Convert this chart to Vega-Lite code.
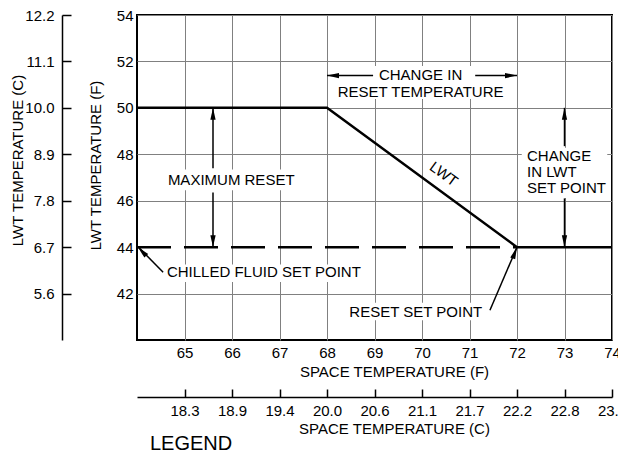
{
  "$schema": "https://vega.github.io/schema/vega-lite/v6.json",
  "width": 475,
  "height": 325,
  "autosize": {"type": "none"},
  "padding": {"left": 137, "top": 15, "right": 6, "bottom": 113},
  "background": "white",
  "config": {
    "font": "Liberation Sans",
    "view": {"stroke": "black", "strokeWidth": 2},
    "axis": {
      "labelFont": "Liberation Sans",
      "titleFont": "Liberation Sans",
      "labelColor": "black",
      "titleColor": "black",
      "labelFontSize": 15,
      "titleFontSize": 15,
      "titleFontWeight": "normal",
      "domainColor": "black",
      "tickColor": "black",
      "gridColor": "#808080",
      "gridWidth": 1,
      "labelFlush": false,
      "labelOverlap": false
    }
  },
  "title": {
    "text": "LEGEND",
    "orient": "bottom",
    "anchor": "start",
    "frame": "group",
    "offset": 14,
    "dx": 13,
    "fontSize": 20,
    "fontWeight": "normal",
    "font": "Liberation Sans",
    "color": "black",
    "baseline": "alphabetic"
  },
  "datasets": {
    "lwt": [
      {"temp_f": 64, "lwt_f": 50},
      {"temp_f": 68, "lwt_f": 50},
      {"temp_f": 72, "lwt_f": 44},
      {"temp_f": 74, "lwt_f": 44}
    ],
    "setpoint": [
      {"temp_f": 64, "lwt_f": 44},
      {"temp_f": 72, "lwt_f": 44}
    ],
    "boxes": [
      {"temp_f": 68.08, "temp_f2": 71.9, "lwt_f": 50.38, "lwt_f2": 51.8},
      {"temp_f": 64.55, "temp_f2": 67.45, "lwt_f": 46.45, "lwt_f2": 47.35},
      {"temp_f": 64.6, "temp_f2": 68.95, "lwt_f": 42.5, "lwt_f2": 43.25},
      {"temp_f": 68.35, "temp_f2": 71.4, "lwt_f": 40.85, "lwt_f2": 41.6},
      {"temp_f": 72.1, "temp_f2": 73.9, "lwt_f": 46.12, "lwt_f2": 48.28}
    ],
    "arrows": [
      {"temp_f": 68, "temp_f2": 68.97, "lwt_f": 51.39, "lwt_f2": 51.39},
      {"temp_f": 71.12, "temp_f2": 72, "lwt_f": 51.39, "lwt_f2": 51.39},
      {"temp_f": 65.6, "temp_f2": 65.6, "lwt_f": 50, "lwt_f2": 47.4},
      {"temp_f": 65.6, "temp_f2": 65.6, "lwt_f": 46.35, "lwt_f2": 44},
      {"temp_f": 73, "temp_f2": 73, "lwt_f": 50, "lwt_f2": 48.35},
      {"temp_f": 73, "temp_f2": 73, "lwt_f": 46.1, "lwt_f2": 44},
      {"temp_f": 64.03, "temp_f2": 64.55, "lwt_f": 44, "lwt_f2": 42.92},
      {"temp_f": 71.43, "temp_f2": 72, "lwt_f": 41.28, "lwt_f2": 44}
    ],
    "heads": [
      {"temp_f": 68, "lwt_f": 51.39, "dir": "left"},
      {"temp_f": 72, "lwt_f": 51.39, "dir": "right"},
      {"temp_f": 65.6, "lwt_f": 50, "dir": "up"},
      {"temp_f": 65.6, "lwt_f": 44, "dir": "down"},
      {"temp_f": 73, "lwt_f": 50, "dir": "up"},
      {"temp_f": 73, "lwt_f": 44, "dir": "down"},
      {"temp_f": 64.02, "lwt_f": 44, "dir": "up-left"},
      {"temp_f": 72, "lwt_f": 44, "dir": "up-right"}
    ],
    "labels_center": [
      {"temp_f": 69.97, "lwt_f": 51.41, "text": "CHANGE IN"},
      {"temp_f": 69.97, "lwt_f": 50.69, "text": "RESET TEMPERATURE"}
    ],
    "labels_left": [
      {"temp_f": 64.65, "lwt_f": 46.9, "text": "MAXIMUM RESET"},
      {"temp_f": 64.63, "lwt_f": 42.92, "text": "CHILLED FLUID SET POINT"},
      {"temp_f": 68.47, "lwt_f": 41.2, "text": "RESET SET POINT"},
      {"temp_f": 72.21, "lwt_f": 47.92, "text": "CHANGE"},
      {"temp_f": 72.21, "lwt_f": 47.23, "text": "IN LWT"},
      {"temp_f": 72.21, "lwt_f": 46.54, "text": "SET POINT"}
    ],
    "label_lwt": [
      {"temp_f": 70.46, "lwt_f": 47.15, "text": "LWT"}
    ]
  },
  "resolve": {"axis": {"x": "independent", "y": "independent"}},
  "layer": [
    {
      "data": {"name": "boxes"},
      "mark": {"type": "rect", "fill": "white", "strokeWidth": 0},
      "encoding": {
        "x": {"field": "temp_f", "type": "quantitative", "scale": {"domain": [64, 74], "nice": false, "zero": false}, "axis": null},
        "x2": {"field": "temp_f2"},
        "y": {"field": "lwt_f", "type": "quantitative", "scale": {"domain": [40, 54], "nice": false, "zero": false}, "axis": null},
        "y2": {"field": "lwt_f2"}
      }
    },
    {
      "data": {"name": "lwt"},
      "mark": {"type": "line", "color": "black", "strokeWidth": 2.5},
      "encoding": {
        "x": {
          "field": "temp_f", "type": "quantitative",
          "scale": {"domain": [64, 74], "nice": false, "zero": false},
          "axis": {
            "orient": "bottom",
            "values": [65, 66, 67, 68, 69, 70, 71, 72, 73, 74],
            "grid": true, "ticks": false, "domain": false,
            "labelPadding": 5,
            "title": "SPACE TEMPERATURE (F)",
            "titleX": 257, "titleY": 31, "titleAlign": "center", "titleBaseline": "middle"
          }
        },
        "y": {
          "field": "lwt_f", "type": "quantitative",
          "scale": {"domain": [40, 54], "nice": false, "zero": false},
          "axis": {
            "orient": "left",
            "values": [42, 44, 46, 48, 50, 52, 54],
            "grid": true, "ticks": false, "domain": false,
            "gridOpacity": {"condition": {"test": "datum.value === 44", "value": 0}, "value": 1},
            "labelPadding": 4,
            "title": "LWT TEMPERATURE (F)",
            "titleAngle": -90, "titleX": -42, "titleY": 150, "titleAlign": "center", "titleBaseline": "middle"
          }
        }
      }
    },
    {
      "data": {"name": "setpoint"},
      "mark": {"type": "line", "color": "black", "strokeWidth": 2.5, "strokeDash": [34, 13]},
      "encoding": {
        "x": {
          "field": "temp_f", "type": "quantitative",
          "scale": {"domain": [64, 74], "nice": false, "zero": false},
          "axis": {
            "orient": "bottom", "offset": 57,
            "values": [65, 66, 67, 68, 69, 70, 71, 72, 73, 74],
            "grid": false, "ticks": true, "domain": true,
            "domainWidth": 1.5, "tickWidth": 1.5, "tickSize": -8,
            "labelPadding": 14,
            "labelExpr": "format((datum.value - 32) * 5 / 9, '.1f')",
            "title": "SPACE TEMPERATURE (C)",
            "titleX": 257, "titleY": 31, "titleAlign": "center", "titleBaseline": "middle"
          }
        },
        "y": {
          "field": "lwt_f", "type": "quantitative",
          "scale": {"domain": [40, 54], "nice": false, "zero": false},
          "axis": {
            "orient": "left", "offset": 75,
            "values": [42, 44, 46, 48, 50, 52, 54],
            "grid": false, "ticks": true, "domain": true,
            "domainWidth": 1.5, "tickWidth": 1.5, "tickSize": -9,
            "labelPadding": 17,
            "labelExpr": "format((datum.value - 32) * 5 / 9, '.1f')",
            "title": "LWT TEMPERATURE (C)",
            "titleAngle": -90, "titleX": -45, "titleY": 145, "titleAlign": "center", "titleBaseline": "middle"
          }
        }
      }
    },
    {
      "data": {"name": "arrows"},
      "mark": {"type": "rule", "color": "black", "strokeWidth": 1.5},
      "encoding": {
        "x": {"field": "temp_f", "type": "quantitative", "scale": {"domain": [64, 74], "nice": false, "zero": false}, "axis": null},
        "x2": {"field": "temp_f2"},
        "y": {"field": "lwt_f", "type": "quantitative", "scale": {"domain": [40, 54], "nice": false, "zero": false}, "axis": null},
        "y2": {"field": "lwt_f2"}
      }
    },
    {
      "data": {"name": "heads"},
      "transform": [{"filter": "datum.dir === 'up'"}],
      "mark": {"type": "point", "shape": "M0,0L0.22,1L-0.22,1Z", "filled": true, "size": 576, "color": "black", "opacity": 1, "angle": 0},
      "encoding": {
        "x": {"field": "temp_f", "type": "quantitative", "scale": {"domain": [64, 74], "nice": false, "zero": false}, "axis": null},
        "y": {"field": "lwt_f", "type": "quantitative", "scale": {"domain": [40, 54], "nice": false, "zero": false}, "axis": null}
      }
    },
    {
      "data": {"name": "heads"},
      "transform": [{"filter": "datum.dir === 'down'"}],
      "mark": {"type": "point", "shape": "M0,0L0.22,1L-0.22,1Z", "filled": true, "size": 576, "color": "black", "opacity": 1, "angle": 180},
      "encoding": {
        "x": {"field": "temp_f", "type": "quantitative", "scale": {"domain": [64, 74], "nice": false, "zero": false}, "axis": null},
        "y": {"field": "lwt_f", "type": "quantitative", "scale": {"domain": [40, 54], "nice": false, "zero": false}, "axis": null}
      }
    },
    {
      "data": {"name": "heads"},
      "transform": [{"filter": "datum.dir === 'left'"}],
      "mark": {"type": "point", "shape": "M0,0L0.22,1L-0.22,1Z", "filled": true, "size": 576, "color": "black", "opacity": 1, "angle": 270},
      "encoding": {
        "x": {"field": "temp_f", "type": "quantitative", "scale": {"domain": [64, 74], "nice": false, "zero": false}, "axis": null},
        "y": {"field": "lwt_f", "type": "quantitative", "scale": {"domain": [40, 54], "nice": false, "zero": false}, "axis": null}
      }
    },
    {
      "data": {"name": "heads"},
      "transform": [{"filter": "datum.dir === 'right'"}],
      "mark": {"type": "point", "shape": "M0,0L0.22,1L-0.22,1Z", "filled": true, "size": 576, "color": "black", "opacity": 1, "angle": 90},
      "encoding": {
        "x": {"field": "temp_f", "type": "quantitative", "scale": {"domain": [64, 74], "nice": false, "zero": false}, "axis": null},
        "y": {"field": "lwt_f", "type": "quantitative", "scale": {"domain": [40, 54], "nice": false, "zero": false}, "axis": null}
      }
    },
    {
      "data": {"name": "heads"},
      "transform": [{"filter": "datum.dir === 'up-left'"}],
      "mark": {"type": "point", "shape": "M0,0L0.22,1L-0.22,1Z", "filled": true, "size": 576, "color": "black", "opacity": 1, "angle": 316},
      "encoding": {
        "x": {"field": "temp_f", "type": "quantitative", "scale": {"domain": [64, 74], "nice": false, "zero": false}, "axis": null},
        "y": {"field": "lwt_f", "type": "quantitative", "scale": {"domain": [40, 54], "nice": false, "zero": false}, "axis": null}
      }
    },
    {
      "data": {"name": "heads"},
      "transform": [{"filter": "datum.dir === 'up-right'"}],
      "mark": {"type": "point", "shape": "M0,0L0.22,1L-0.22,1Z", "filled": true, "size": 576, "color": "black", "opacity": 1, "angle": 21},
      "encoding": {
        "x": {"field": "temp_f", "type": "quantitative", "scale": {"domain": [64, 74], "nice": false, "zero": false}, "axis": null},
        "y": {"field": "lwt_f", "type": "quantitative", "scale": {"domain": [40, 54], "nice": false, "zero": false}, "axis": null}
      }
    },
    {
      "data": {"name": "labels_center"},
      "mark": {"type": "text", "align": "center", "baseline": "middle", "fontSize": 15, "font": "Liberation Sans", "color": "black"},
      "encoding": {
        "x": {"field": "temp_f", "type": "quantitative", "scale": {"domain": [64, 74], "nice": false, "zero": false}, "axis": null},
        "y": {"field": "lwt_f", "type": "quantitative", "scale": {"domain": [40, 54], "nice": false, "zero": false}, "axis": null},
        "text": {"field": "text"}
      }
    },
    {
      "data": {"name": "labels_left"},
      "mark": {"type": "text", "align": "left", "baseline": "middle", "fontSize": 15, "font": "Liberation Sans", "color": "black"},
      "encoding": {
        "x": {"field": "temp_f", "type": "quantitative", "scale": {"domain": [64, 74], "nice": false, "zero": false}, "axis": null},
        "y": {"field": "lwt_f", "type": "quantitative", "scale": {"domain": [40, 54], "nice": false, "zero": false}, "axis": null},
        "text": {"field": "text"}
      }
    },
    {
      "data": {"name": "label_lwt"},
      "mark": {"type": "text", "align": "center", "baseline": "middle", "fontSize": 15, "font": "Liberation Sans", "color": "black", "angle": 36},
      "encoding": {
        "x": {"field": "temp_f", "type": "quantitative", "scale": {"domain": [64, 74], "nice": false, "zero": false}, "axis": null},
        "y": {"field": "lwt_f", "type": "quantitative", "scale": {"domain": [40, 54], "nice": false, "zero": false}, "axis": null},
        "text": {"field": "text"}
      }
    }
  ]
}
